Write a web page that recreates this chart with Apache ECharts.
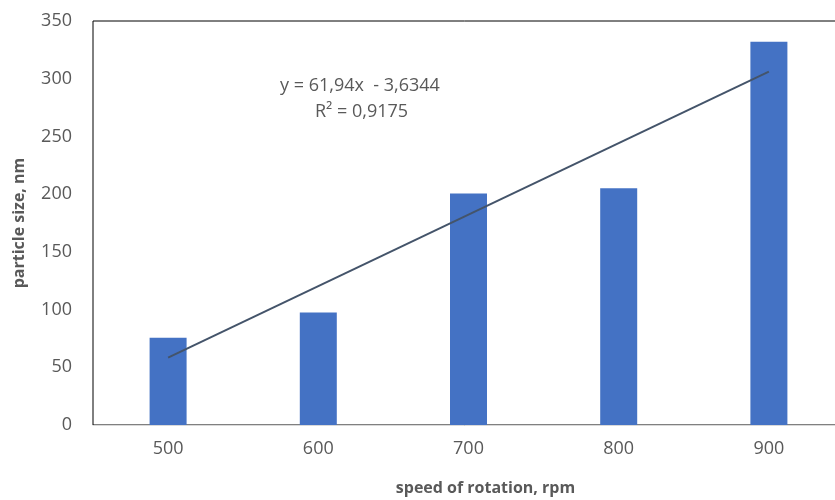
<!DOCTYPE html>
<html>
<head>
<meta charset="utf-8">
<script src="https://cdn.jsdelivr.net/npm/echarts@6/dist/echarts.min.js"></script>
<style>
  html, body { margin: 0; padding: 0; background: #fff; }
  #chart { width: 835px; height: 500px; }
</style>
</head>
<body>
<div id="chart"></div>
<script>
// speed of rotation, rpm
const speeds = ["500", "600", "700", "800", "900"];
// particle size, nm
const sizes = [75.5, 97.5, 200.5, 205, 332];
// linear trendline end points, drawn from first to last category
const trend = [58.3, null, null, null, 306.1];
const yTicks = [0, 50, 100, 150, 200, 250, 300, 350];
const equation = ["y = 61,94x  - 3,6344", "R² = 0,9175"];

const chart = echarts.init(document.getElementById("chart"));

const labelColor = "#595959";
const font = "'Open Sans', 'Liberation Sans', sans-serif";

let option = {
  animation: false,
  grid: {
    left: 93,
    right: -9, // plot area runs past the right edge of the picture
    top: 21,
    bottom: 75,
    outerBoundsMode: "none",
    show: true,
    borderColor: "#000",
    borderWidth: 1,
  },
  xAxis: {
    type: "category",
    data: speeds,
    name: "speed of rotation, rpm",
    nameLocation: "middle",
    nameGap: 55,
    nameTextStyle: {
      color: labelColor,
      fontFamily: font,
      fontSize: 16,
      fontWeight: "bold",
      padding: [0, 0, 0, 34],
    },
    axisTick: { show: false },
    axisLine: { show: true, lineStyle: { color: "#d9d9d9", width: 1 } },
    axisLabel: {
      color: labelColor,
      fontFamily: font,
      fontSize: 18,
      margin: 15,
    },
    splitLine: { show: false },
  },
  yAxis: {
    type: "value",
    min: yTicks[0],
    max: yTicks[yTicks.length - 1],
    interval: 50,
    name: "particle size, nm",
    nameLocation: "middle",
    nameGap: 66,
    nameTextStyle: {
      color: labelColor,
      fontFamily: font,
      fontSize: 16,
      fontWeight: "bold",
    },
    axisLine: { show: false },
    axisTick: { show: false },
    axisLabel: {
      color: labelColor,
      fontFamily: font,
      fontSize: 18,
      margin: 21,
    },
    splitLine: { show: false },
  },
  graphic: [
    {
      type: "text",
      left: 280,
      top: 77,
      style: {
        text: equation[0],
        fill: labelColor,
        font: "18px " + font,
      },
    },
    {
      type: "text",
      left: 315,
      top: 103,
      style: {
        text: equation[1],
        fill: labelColor,
        font: "18px " + font,
      },
    },
  ],
  series: [
    {
      name: "particle size",
      type: "bar",
      data: sizes,
      barWidth: 37,
      itemStyle: { color: "#4472C4" },
      z: 2,
    },
    {
      name: "trend",
      type: "line",
      data: trend,
      connectNulls: true,
      symbol: "none",
      lineStyle: { color: "#44546A", width: 2 },
      z: 3,
    },
  ],
};
chart.setOption(option);
</script>
</body>
</html>
